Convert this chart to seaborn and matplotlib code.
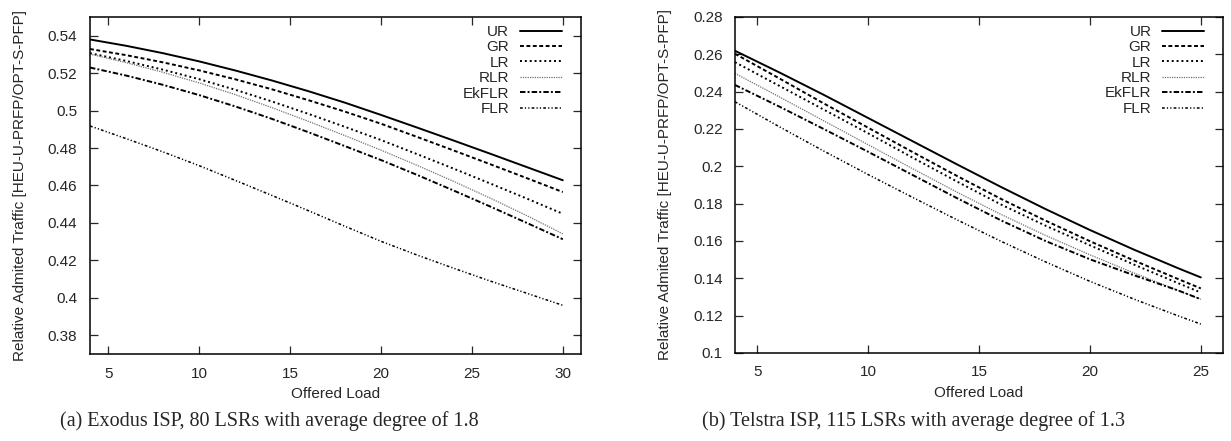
import numpy as np
import pandas as pd
import matplotlib
matplotlib.use("Agg")
import matplotlib.pyplot as plt
import matplotlib.ticker as mticker
import seaborn as sns

# ---- data ----
methods = ["UR", "GR", "LR", "RLR", "EkFLR", "FLR"]

# (a) Exodus ISP
load_a = [4, 6, 8, 10, 12, 14, 16, 18, 20, 22, 24, 26, 28, 30]
ur_a = [0.5380, 0.5346, 0.5307, 0.5263, 0.5214, 0.5161, 0.5104, 0.5043, 0.4977, 0.4909, 0.4840, 0.4770, 0.4699, 0.4628]
gr_a = [0.5329, 0.5296, 0.5258, 0.5215, 0.5167, 0.5114, 0.5056, 0.4995, 0.4930, 0.4859, 0.4787, 0.4714, 0.4640, 0.4565]
lr_a = [0.5307, 0.5265, 0.5219, 0.5168, 0.5111, 0.5049, 0.4983, 0.4914, 0.4843, 0.4767, 0.4690, 0.4611, 0.4531, 0.4449]
rlr_a = [0.5302, 0.5256, 0.5205, 0.5148, 0.5085, 0.5016, 0.4943, 0.4867, 0.4789, 0.4707, 0.4622, 0.4533, 0.4440, 0.4342]
ekflr_a = [0.5230, 0.5187, 0.5138, 0.5083, 0.5022, 0.4956, 0.4885, 0.4811, 0.4736, 0.4656, 0.4573, 0.4488, 0.4401, 0.4313]
flr_a = [0.4918, 0.4850, 0.4780, 0.4706, 0.4627, 0.4547, 0.4466, 0.4383, 0.4302, 0.4228, 0.4158, 0.4090, 0.4025, 0.3960]

# (b) Telstra ISP
load_b = [4, 6, 8, 10, 12, 14, 16, 18, 20, 22, 24, 25]
ur_b = [0.2619, 0.2503, 0.2383, 0.2259, 0.2135, 0.2011, 0.1889, 0.1771, 0.1659, 0.1553, 0.1453, 0.1405]
gr_b = [0.2603, 0.2471, 0.2337, 0.2207, 0.2077, 0.1949, 0.1825, 0.1709, 0.1599, 0.1495, 0.1395, 0.1346]
lr_b = [0.2558, 0.2431, 0.2304, 0.2177, 0.2047, 0.1919, 0.1795, 0.1682, 0.1577, 0.1473, 0.1373, 0.1324]
rlr_b = [0.2498, 0.2372, 0.2244, 0.2116, 0.1988, 0.1862, 0.1742, 0.1630, 0.1526, 0.1428, 0.1334, 0.1288]
ekflr_b = [0.2436, 0.2320, 0.2200, 0.2078, 0.1954, 0.1830, 0.1710, 0.1600, 0.1502, 0.1416, 0.1334, 0.1288]
flr_b = [0.2346, 0.2212, 0.2082, 0.1956, 0.1834, 0.1714, 0.1598, 0.1488, 0.1384, 0.1288, 0.1198, 0.1155]

caption_a = "(a) Exodus ISP, 80 LSRs with average degree of 1.8"
caption_b = "(b) Telstra ISP, 115 LSRs with average degree of 1.3"
ylabel = "Relative Admited Traffic [HEU-U-PRFP/OPT-S-PFP]"
xlabel = "Offered Load"

# line looks (gnuplot-like monochrome)
styles = {
    "UR": dict(color="black", lw=1.4, ls="-"),
    "GR": dict(color="black", lw=1.4, ls=(0, (2.0, 1.3))),
    "LR": dict(color="black", lw=1.4, ls=(0, (1.0, 1.5))),
    "RLR": dict(color="#707070", lw=0.9, ls=(0, (1.0, 0.9))),
    "EkFLR": dict(color="black", lw=1.4, ls=(0, (2.8, 1.1, 1.0, 1.1))),
    "FLR": dict(color="black", lw=1.1, ls=(0, (1.8, 1.4, 0.8, 1.4, 0.8, 1.4))),
}

FS = 11

sns.set_style("ticks")
plt.rcParams["font.family"] = ["Liberation Sans", "DejaVu Sans"]

fig = plt.figure(figsize=(12.31, 4.41), dpi=100)
ax_a = fig.add_axes([90 / 1231, 87 / 441, 491 / 1231, 337 / 441])
ax_b = fig.add_axes([735 / 1231, 88 / 441, 488 / 1231, 336 / 441])


def draw(ax, load, series, xlim, xticks, ylim, yticks):
    for name, vals in zip(methods, series):
        st = styles[name]
        sns.lineplot(x=load, y=vals, ax=ax, color=st["color"], linewidth=st["lw"],
                     linestyle=st["ls"], label=name)
    ax.set_xlim(*xlim)
    ax.set_ylim(*ylim)
    ax.set_xticks(xticks)
    ax.set_yticks(yticks)
    ax.yaxis.set_major_formatter(mticker.StrMethodFormatter("{x:g}"))
    ax.tick_params(direction="in", top=True, right=True, length=6, width=0.9,
                   labelsize=FS, pad=9)
    for sp in ax.spines.values():
        sp.set_visible(True)
        sp.set_linewidth(1.1)
        sp.set_color("black")
    ax.set_xlabel(xlabel, fontsize=FS)
    ax.set_ylabel(ylabel, fontsize=FS)
    ax.xaxis.set_label_coords(0.5, -0.098)
    ax.yaxis.set_label_coords(-63 / ax.bbox.width, 0.5)
    leg = ax.legend(loc="upper right", bbox_to_anchor=(1 - 19 / 491, 1 - 8 / 337),
                    frameon=False, markerfirst=False, fontsize=FS,
                    handlelength=2.75, handletextpad=0.7, labelspacing=0.09,
                    borderpad=0, borderaxespad=0)
    return leg


draw(ax_a, load_a, [ur_a, gr_a, lr_a, rlr_a, ekflr_a, flr_a],
     (4, 31), [5, 10, 15, 20, 25, 30], (0.37, 0.55), np.arange(0.38, 0.5401, 0.02))
draw(ax_b, load_b, [ur_b, gr_b, lr_b, rlr_b, ekflr_b, flr_b],
     (4, 26), [5, 10, 15, 20, 25], (0.1, 0.28), np.arange(0.10, 0.2801, 0.02))

fig.text(60 / 1231, 15 / 441, caption_a, family=["Liberation Serif", "DejaVu Serif"],
         fontsize=14.5, ha="left", va="baseline")
fig.text(702 / 1231, 15 / 441, caption_b, family=["Liberation Serif", "DejaVu Serif"],
         fontsize=14.5, ha="left", va="baseline")

fig.savefig("out.png", dpi=100)
